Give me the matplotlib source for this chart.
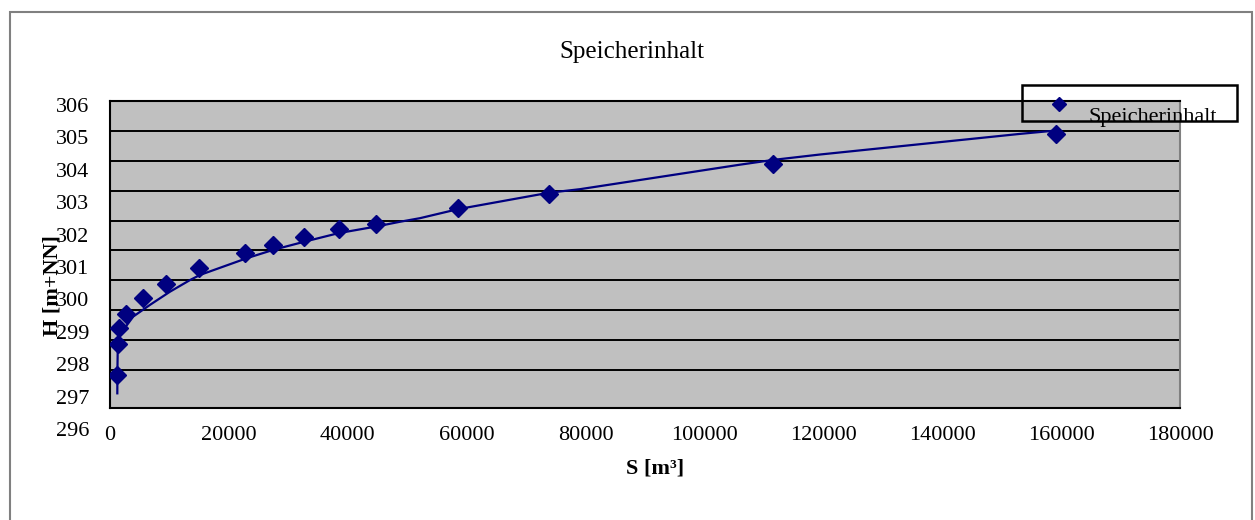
import matplotlib.pyplot as plt
from matplotlib.lines import Line2D
from matplotlib.patches import Rectangle

plt.rcParams['font.family'] = ['Liberation Serif', 'DejaVu Serif']

# Messpunkte: Speichervolumen S [m³] und Wasserstand H [m+NN]
S_punkte = [1230, 1300, 1510, 2740, 5500, 9420, 15020, 22760, 27470,
            32640, 38470, 44750, 58500, 73800, 111600, 159100]
H_punkte = [296.84, 297.88, 298.42, 298.89, 299.42, 299.89, 300.42, 300.91,
            301.17, 301.44, 301.71, 301.89, 302.43, 302.89, 303.88, 304.90]

# Ausgleichskurve
S_kurve = [1230, 1250, 1300, 1400, 1750, 2240, 3920, 6730, 10090, 13460,
           15140, 23000, 27470, 32640, 38470, 44750, 48790, 52150, 58500,
           73800, 79070, 105990, 111600, 119450, 153100, 159000]
H_kurve = [296.22, 297.00, 297.70, 298.00, 298.20, 298.34, 298.79, 299.18,
           299.62, 300.01, 300.18, 300.74, 301.02, 301.29, 301.58, 301.80,
           301.96, 302.08, 302.38, 302.93, 303.05, 303.87, 304.03, 304.21,
           304.90, 305.01]

x_ticks = [0, 20000, 40000, 60000, 80000, 100000, 120000, 140000, 160000, 180000]
y_gitter = [297, 298, 299, 300, 301, 302, 303, 304, 305]
y_beschriftung = [296, 297, 298, 299, 300, 301, 302, 303, 304, 305, 306]

W, H = 1255, 520
fig = plt.figure(figsize=(W / 100, H / 100), dpi=100)


def px(x, y):
    # Pixelposition (von oben links) -> Figurkoordinaten
    return x / W, 1 - y / H


# Rahmen um das gesamte Diagramm
rahmen = Rectangle(px(10, 530), (1252 - 10) / W, (530 - 12) / H,
                   transform=fig.transFigure, fill=False,
                   edgecolor='#808080', linewidth=1.5)
fig.add_artist(rahmen)

# Zeichenfläche
ax = fig.add_axes([110 / W, (H - 408) / H, 1070 / W, 307 / H])
ax.set_facecolor('#c0c0c0')
ax.set_xlim(0, 180000)
ax.set_ylim(306 - 307 / 29.89, 306)

ax.set_yticks(y_gitter)
ax.set_yticklabels([])
ax.tick_params(axis='y', length=0)
ax.grid(axis='y', color='black', linewidth=1.4)
ax.set_axisbelow(True)

ax.set_xticks(x_ticks)
ax.set_xticklabels([str(v) for v in x_ticks], fontsize=16)
ax.tick_params(axis='x', length=0, pad=13)

for seite in ['left', 'top', 'bottom']:
    ax.spines[seite].set_color('black')
    ax.spines[seite].set_linewidth(1.5)
ax.spines['right'].set_color('#808080')
ax.spines['right'].set_linewidth(1.5)

ax.plot(S_kurve, H_kurve, color='#000080', linewidth=1.6, zorder=3)
ax.plot(S_punkte, H_punkte, linestyle='none', marker='D', markersize=9,
        color='#000080', zorder=4)

# Beschriftung der Hochachse
ax_lab = fig.add_axes([89 / W, (H - 429) / H, 0.001, 324 / H])
ax_lab.set_ylim(296, 306)
ax_lab.set_yticks(y_beschriftung)
ax_lab.set_yticklabels([str(v) for v in y_beschriftung], fontsize=16)
ax_lab.tick_params(axis='y', length=0, pad=0)
ax_lab.set_xticks([])
ax_lab.patch.set_visible(False)
for s in ax_lab.spines.values():
    s.set_visible(False)

# Titel und Achsentitel
fig.text(*px(632, 52), 'Speicherinhalt', fontsize=18, ha='center', va='center')
fig.text(*px(655, 469), 'S [m³]', fontsize=16, fontweight='bold',
         ha='center', va='center')
fig.text(*px(52, 286), 'H [m+NN]', fontsize=16, fontweight='bold',
         rotation=90, ha='center', va='center')

# Legende
leg_box = Rectangle(px(1022, 121), (1237 - 1022) / W, (121 - 85) / H,
                    transform=fig.transFigure, fill=False,
                    edgecolor='black', linewidth=1.8, zorder=5)
fig.add_artist(leg_box)
fig.add_artist(Line2D([px(1059, 104)[0]], [px(1059, 104)[1]],
                      transform=fig.transFigure, marker='D', markersize=7,
                      color='#000080', linestyle='none'))
fig.text(*px(1088, 122), 'Speicherinhalt', fontsize=16, ha='left',
         va='baseline')

fig.savefig('out.png', dpi=100)
